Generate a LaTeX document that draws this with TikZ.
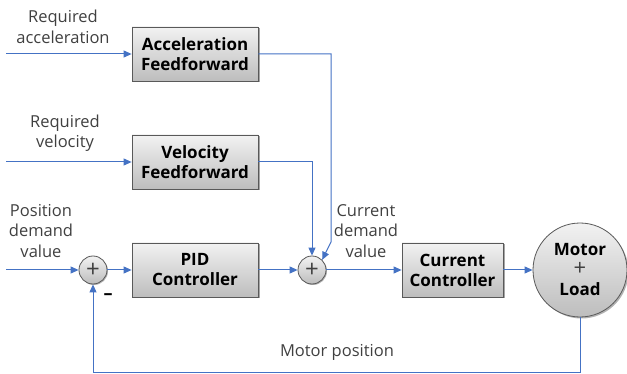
\documentclass[tikz,border=0pt]{standalone}
\usepackage{fontspec}
\setmainfont{Open Sans}
\usetikzlibrary{arrows.meta,shadows}
\definecolor{lineblue}{HTML}{4472C4}
\definecolor{txtgray}{HTML}{404040}
\definecolor{edgegray}{HTML}{595959}
\definecolor{shtop}{HTML}{F2F2F2}
\definecolor{shbot}{HTML}{BDBDBD}
\begin{document}
\begin{tikzpicture}[x=1pt,y=-1pt,
 blk/.style={draw=edgegray, line width=0.8pt, top color=shtop, bottom color=shbot,
   minimum width=126pt, minimum height=54pt, inner sep=0pt, align=center,
   font=\fontsize{17}{20}\selectfont\bfseries,
   drop shadow={shadow xshift=1.5pt, shadow yshift=-1.5pt, opacity=0.35, fill=black}},
 sumnode/.style={circle, draw=edgegray, line width=0.8pt, top color=shtop, bottom color=shbot,
   minimum size=28pt, inner sep=0pt, font=\fontsize{24}{24}\selectfont\lightweight, text=txtgray,
   drop shadow={shadow xshift=1pt, shadow yshift=-1pt, opacity=0.3, fill=black}},
 motorstyle/.style={circle, draw=edgegray, line width=0.8pt, top color=shtop, bottom color=shbot,
   minimum size=94pt, inner sep=0pt, align=center, font=\fontsize{17}{20}\selectfont\bfseries,
   drop shadow={shadow xshift=1.5pt, shadow yshift=-1.5pt, opacity=0.3, fill=black}},
 lbl/.style={text=txtgray, align=center, font=\fontsize{16.5}{20.5}\selectfont},
 conn/.style={draw=lineblue, line width=1pt, -{Triangle[length=8pt,width=7pt]}}
]
\providecommand\lightweight{\mdseries}
\useasboundingbox (0,0) rectangle (627,374);

\node[blk] (af) at (195,54) {Acceleration\\Feedforward};
\node[blk] (vf) at (195,162) {Velocity\\Feedforward};
\node[blk] (pid) at (195,270) {PID\\Controller};
\node[blk, minimum width=101pt] (cc) at (452.5,270) {Current\\Controller};
\node[sumnode] (s1) at (93,270) {+};
\node[sumnode] (s2) at (312,270) {+};
\node[motorstyle] (m) at (580,270) {Motor\\{\mdseries\fontsize{22}{20}\selectfont\color{txtgray}+}\\Load};

\coordinate (ia) at (6,54);
\coordinate (iv) at (6,162);
\coordinate (ip) at (6,270);
\coordinate (ac1) at (331,54);
\coordinate (ac2) at (331,242);
\coordinate (fb) at (580,372);

\node[lbl] (la) at (63,27) {Required\\acceleration};
\node[lbl] (lv) at (65,133) {Required\\velocity};
\node[lbl] (lp) at (41,231) {Position\\demand\\value};
\node[lbl] (lc) at (366,231) {Current\\demand\\value};
\node[lbl] (lm) at (337,352) {Motor position};
\node[font=\fontsize{18}{18}\selectfont\bfseries] (minus) at (108,297) {--};

\draw[conn] (ia) -- (af.west);
\draw[conn] (iv) -- (vf.west);
\draw[conn] (ip) -- (s1.west);
\draw[conn] (s1.east) -- (pid.west);
\draw[conn] (pid.east) -- (s2.west);
\draw[conn] (s2.east) -- (cc.west);
\draw[conn] (cc.east) -- (m.west);
\draw[conn] (vf.east) -| (s2.north);
\draw[conn] (af.east) -- (ac1) -- (ac2) -- (s2.north east);
\draw[conn] (m.south) -- (fb) -| (s1.south);
\end{tikzpicture}
\end{document}
